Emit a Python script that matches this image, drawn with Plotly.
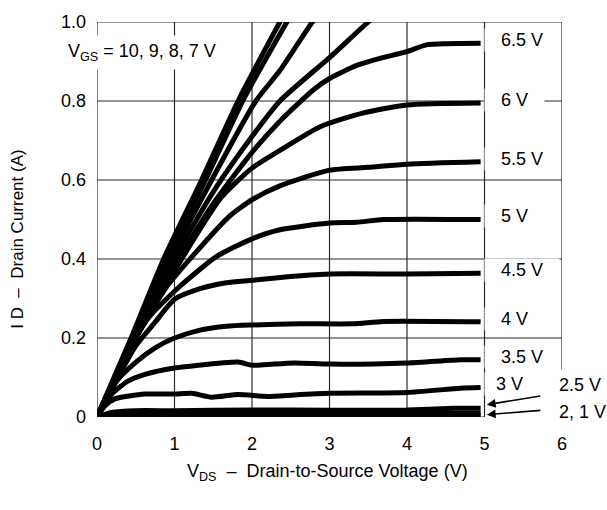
import plotly.graph_objects as go

# Output characteristics: drain current vs drain-to-source voltage, one curve per gate voltage
vgs_10v_x = [0, 0.44, 0.86, 1.35, 1.82, 2.36, 2.5]
vgs_10v_y = [0, 0.20, 0.40, 0.60, 0.80, 1.00, 1.05]
vgs_9v_x = [0, 0.45, 0.90, 1.40, 1.88, 2.45, 2.6]
vgs_9v_y = [0, 0.20, 0.40, 0.60, 0.80, 1.00, 1.05]
vgs_8v_x = [0, 0.47, 0.95, 1.48, 2.05, 2.36, 2.78, 3.0]
vgs_8v_y = [0, 0.20, 0.40, 0.60, 0.80, 0.877, 1.00, 1.05]
vgs_7v_x = [0, 0.5, 1.0, 1.5, 2.0, 2.36, 3.0, 3.5, 3.8]
vgs_7v_y = [0, 0.21, 0.40, 0.57, 0.71, 0.80, 0.91, 1.00, 1.05]
vgs_65v_x = [0, 0.5, 1.0, 1.5, 2.0, 2.36, 2.79, 3.0, 3.35, 3.65, 4.0, 4.25, 4.95]
vgs_65v_y = [0, 0.20, 0.38, 0.54, 0.67, 0.749, 0.828, 0.857, 0.89, 0.908, 0.925, 0.942, 0.946]
vgs_6v_x = [0, 0.5, 1.0, 1.6, 2.0, 2.36, 2.88, 3.44, 4.0, 4.95]
vgs_6v_y = [0, 0.20, 0.37, 0.555, 0.63, 0.675, 0.735, 0.77, 0.79, 0.795]
vgs_55v_x = [0, 0.5, 0.9, 1.2, 1.69, 2.0, 2.36, 3.0, 3.5, 4.0, 4.95]
vgs_55v_y = [0, 0.20, 0.33, 0.40, 0.505, 0.55, 0.585, 0.625, 0.632, 0.64, 0.646]
vgs_5v_x = [0, 0.5, 0.68, 1.07, 1.54, 2.0, 2.36, 3.0, 3.35, 3.7, 4.95]
vgs_5v_y = [0, 0.20, 0.255, 0.331, 0.406, 0.451, 0.474, 0.491, 0.493, 0.50, 0.50]
vgs_45v_x = [0, 0.5, 0.75, 1.0, 1.33, 1.67, 2.0, 2.4, 3.0, 4.0, 4.95]
vgs_45v_y = [0, 0.18, 0.24, 0.298, 0.325, 0.34, 0.346, 0.354, 0.362, 0.362, 0.364]
vgs_4v_x = [0, 0.25, 0.51, 0.75, 1.0, 1.33, 1.67, 2.0, 2.62, 3.3, 3.7, 4.95]
vgs_4v_y = [0, 0.09, 0.14, 0.175, 0.20, 0.22, 0.23, 0.233, 0.236, 0.236, 0.242, 0.241]
vgs_35v_x = [0, 0.2, 0.4, 0.62, 1.0, 1.26, 1.82, 2.0, 2.2, 2.55, 3.0, 4.0, 4.69, 4.95]
vgs_35v_y = [0, 0.06, 0.091, 0.108, 0.124, 0.13, 0.139, 0.131, 0.133, 0.137, 0.134, 0.137, 0.145, 0.145]
vgs_3v_x = [0, 0.1, 0.23, 0.62, 1.0, 1.22, 1.48, 1.82, 2.2, 2.55, 3.0, 4.0, 4.69, 4.95]
vgs_3v_y = [0, 0.028, 0.046, 0.058, 0.058, 0.06, 0.05, 0.057, 0.052, 0.056, 0.06, 0.062, 0.073, 0.0745]
vgs_25v_x = [0, 0.2, 0.5, 1.0, 2.0, 3.0, 4.0, 4.6, 4.95]
vgs_25v_y = [0, 0.012, 0.016, 0.016, 0.018, 0.017, 0.018, 0.022, 0.022]
vgs_2v_x = [0, 0.2, 1.0, 3.0, 4.95]
vgs_2v_y = [0, 0.006, 0.008, 0.009, 0.010]
vgs_1v_x = [0, 0.3, 4.95]
vgs_1v_y = [0, 0.002, 0.003]

curves = [
    ("10 V", vgs_10v_x, vgs_10v_y), ("9 V", vgs_9v_x, vgs_9v_y),
    ("8 V", vgs_8v_x, vgs_8v_y), ("7 V", vgs_7v_x, vgs_7v_y),
    ("6.5 V", vgs_65v_x, vgs_65v_y), ("6 V", vgs_6v_x, vgs_6v_y),
    ("5.5 V", vgs_55v_x, vgs_55v_y), ("5 V", vgs_5v_x, vgs_5v_y),
    ("4.5 V", vgs_45v_x, vgs_45v_y), ("4 V", vgs_4v_x, vgs_4v_y),
    ("3.5 V", vgs_35v_x, vgs_35v_y), ("3 V", vgs_3v_x, vgs_3v_y),
    ("2.5 V", vgs_25v_x, vgs_25v_y), ("2 V", vgs_2v_x, vgs_2v_y),
    ("1 V", vgs_1v_x, vgs_1v_y),
]

# Curves labelled individually at the right-hand end
end_labels = ["6.5 V", "6 V", "5.5 V", "5 V", "4.5 V", "4 V", "3.5 V", "3 V"]

x_ticks = [0, 1, 2, 3, 4, 5, 6]
x_tick_text = ["0", "1", "2", "3", "4", "5", "6"]
y_ticks = [0, 0.2, 0.4, 0.6, 0.8, 1.0]
y_tick_text = ["0", "0.2", "0.4", "0.6", "0.8", "1.0"]

FONT = "Liberation Sans, Arial, Helvetica, sans-serif"
INK = "#000000"
GRID = "#2a2a2a"

fig = go.Figure()
for name, xs, ys in curves:
    fig.add_trace(go.Scatter(
        x=xs, y=ys, mode="lines", name=name,
        line=dict(color=INK, width=5, shape="spline", smoothing=0.6),
        showlegend=False, hoverinfo="skip",
    ))

# Grid and frame
shapes = []
for xv in x_ticks[1:6]:
    shapes.append(dict(type="line", xref="x", yref="y", x0=xv, x1=xv, y0=0, y1=1,
                       line=dict(color=GRID, width=1.2), layer="below"))
shapes.append(dict(type="line", xref="x", yref="y", x0=0, x1=0, y0=0, y1=1,
                   line=dict(color=GRID, width=1.2), layer="below"))
shapes.append(dict(type="line", xref="x", yref="y", x0=6, x1=6, y0=0.12, y1=1,
                   line=dict(color=GRID, width=1.2), layer="below"))
for yv in y_ticks[1:]:
    shapes.append(dict(type="line", xref="x", yref="y", x0=0, x1=6, y0=yv, y1=yv,
                       line=dict(color=GRID, width=1.2), layer="below"))
shapes.append(dict(type="line", xref="x", yref="y", x0=0, x1=5, y0=0, y1=0,
                   line=dict(color=GRID, width=1.2), layer="below"))
shapes.append(dict(type="line", xref="x", yref="y", x0=5.47, x1=5.8, y0=-0.004, y1=-0.004,
                   line=dict(color=GRID, width=1.2), layer="below"))

annotations = []
lookup = {name: (xs, ys) for name, xs, ys in curves}
pad = "&nbsp;&nbsp;&nbsp;"
for name in end_labels:
    xs, ys = lookup[name]
    annotations.append(dict(
        x=4.99, y=ys[-1] + 0.008, xref="x", yref="y", xanchor="left", yanchor="middle",
        text=(pad if name != "3 V" else "&nbsp;&nbsp;") + name + pad,
        showarrow=False, bgcolor="white", borderpad=1,
        font=dict(family=FONT, size=18, color=INK),
    ))

# Lowest curves: labels beside the axis with pointing arrows
annotations.append(dict(x=5.93, y=0.082, xref="x", yref="y", xanchor="left", yanchor="middle",
                        text="2.5 V", showarrow=False, bgcolor="white",
                        font=dict(family=FONT, size=18, color=INK)))
annotations.append(dict(x=5.93, y=0.012, xref="x", yref="y", xanchor="left", yanchor="middle",
                        text="2, 1 V", showarrow=False,
                        font=dict(family=FONT, size=18, color=INK)))
annotations.append(dict(x=5.03, y=lookup["2.5 V"][1][-1] + 0.009, xref="x", yref="y",
                        ax=5.74, ay=0.054, axref="x", ayref="y", text="", showarrow=True,
                        arrowhead=2, arrowsize=1.1, arrowwidth=1.6, arrowcolor=INK))
annotations.append(dict(x=5.03, y=lookup["1 V"][1][-1] + 0.003, xref="x", yref="y",
                        ax=5.74, ay=0.017, axref="x", ayref="y", text="", showarrow=True,
                        arrowhead=2, arrowsize=1.1, arrowwidth=1.6, arrowcolor=INK))

# Gate-voltage note for the steep curves
annotations.append(dict(x=-0.075, y=0.922, xref="paper", yref="y", xanchor="left", yanchor="middle",
                        text="V<sub>GS</sub> = 10, 9, 8, 7 V", showarrow=False,
                        bgcolor="white", borderpad=5,
                        font=dict(family=FONT, size=18, color=INK)))

# Axis titles
annotations.append(dict(x=-0.17, y=0.451, xref="paper", yref="paper", textangle=-90,
                        text="I D  \u2013  Drain Current (A)", showarrow=False,
                        xanchor="center", yanchor="middle",
                        font=dict(family=FONT, size=17, color=INK)))
annotations.append(dict(x=0.495, y=-0.14, xref="paper", yref="paper",
                        text="V<sub>DS</sub>  \u2013  Drain-to-Source Voltage (V)", showarrow=False,
                        xanchor="center", yanchor="middle",
                        font=dict(family=FONT, size=18, color=INK)))

# Chart title, sitting just above the top edge of the page
annotations.append(dict(x=0.474, y=1.047, xref="paper", yref="paper",
                        text="<b>Output Characteristics</b>", showarrow=False,
                        xanchor="center", yanchor="bottom",
                        font=dict(family=FONT, size=17, color=INK)))

fig.update_layout(
    width=607, height=510,
    margin=dict(l=97, r=45, t=14, b=93, pad=0),
    paper_bgcolor="white", plot_bgcolor="white",
    shapes=shapes, annotations=annotations,
    xaxis=dict(range=[0, 6], tickvals=x_ticks, ticktext=x_tick_text,
               showgrid=False, zeroline=False, showline=False, ticks="",
               ticklabelstandoff=14,
               tickfont=dict(family=FONT, size=18, color=INK)),
    yaxis=dict(range=[0, 1], tickvals=y_ticks, ticktext=y_tick_text,
               showgrid=False, zeroline=False, showline=False, ticks="",
               ticklabelstandoff=10,
               tickfont=dict(family=FONT, size=18, color=INK)),
)

fig.write_html("out.html")
